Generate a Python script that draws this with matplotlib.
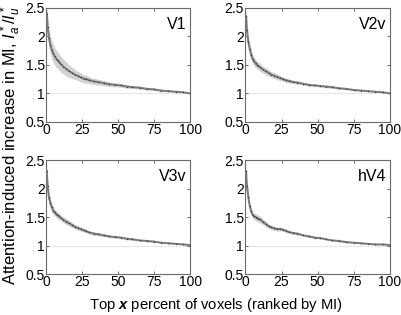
import numpy as np
import matplotlib
matplotlib.use("Agg")
from matplotlib import pyplot as plt

plt.rcParams['font.family'] = ['Liberation Sans', 'DejaVu Sans']
plt.rcParams['mathtext.fontset'] = 'custom'
plt.rcParams['mathtext.rm'] = 'Liberation Sans'
plt.rcParams['mathtext.it'] = 'Liberation Sans:italic'
plt.rcParams['mathtext.bf'] = 'Liberation Sans:bold'
plt.rcParams['mathtext.bfit'] = 'Liberation Sans:italic:bold'

# percent of voxels (top x, ranked by MI)
pct = [0.5, 1, 2, 3, 4, 5, 6, 7, 8, 9, 10, 12, 14, 16, 18, 20, 22, 24, 26, 28, 30,
       33, 36, 40, 44, 48, 52, 56, 60, 65, 70, 75, 80, 85, 90, 95, 100]

areas = ["V1", "V2v", "V3v", "hV4"]

# mean ratio I_a*/I_u*
v1_mean = [2.40, 2.17, 1.97, 1.85, 1.76, 1.70, 1.65, 1.61, 1.58, 1.55, 1.52, 1.47, 1.43, 1.39,
           1.36, 1.33, 1.31, 1.28, 1.26, 1.25, 1.23, 1.21, 1.20, 1.18, 1.16, 1.15, 1.14, 1.12,
           1.11, 1.10, 1.08, 1.07, 1.05, 1.04, 1.03, 1.02, 1.00]
v2v_mean = [2.35, 2.12, 1.90, 1.78, 1.68, 1.60, 1.56, 1.53, 1.50, 1.48, 1.46, 1.42, 1.39, 1.36,
            1.33, 1.31, 1.29, 1.27, 1.25, 1.23, 1.22, 1.20, 1.19, 1.17, 1.15, 1.14, 1.13, 1.12,
            1.11, 1.09, 1.08, 1.06, 1.05, 1.04, 1.03, 1.02, 1.00]
v3v_mean = [2.30, 2.04, 1.84, 1.74, 1.67, 1.61, 1.58, 1.55, 1.53, 1.51, 1.49, 1.45, 1.42, 1.39,
            1.36, 1.33, 1.31, 1.29, 1.27, 1.25, 1.23, 1.21, 1.20, 1.18, 1.16, 1.15, 1.14, 1.12,
            1.11, 1.09, 1.08, 1.07, 1.05, 1.04, 1.03, 1.02, 1.01]
hv4_mean = [2.30, 2.05, 1.85, 1.69, 1.60, 1.54, 1.51, 1.50, 1.48, 1.47, 1.46, 1.42, 1.38, 1.34,
            1.32, 1.30, 1.29, 1.29, 1.28, 1.26, 1.24, 1.22, 1.21, 1.18, 1.16, 1.14, 1.13, 1.11,
            1.09, 1.08, 1.06, 1.05, 1.04, 1.03, 1.02, 1.02, 1.01]

# half-width of the shaded error band
v1_err = [0.22, 0.20, 0.18, 0.17, 0.16, 0.16, 0.15, 0.15, 0.15, 0.14, 0.14, 0.13, 0.12, 0.11,
          0.10, 0.09, 0.08, 0.08, 0.07, 0.07, 0.06, 0.055, 0.05, 0.045, 0.04, 0.035, 0.03, 0.03,
          0.025, 0.025, 0.02, 0.02, 0.02, 0.015, 0.015, 0.01, 0.01]
v2v_err = [0.20, 0.16, 0.12, 0.10, 0.09, 0.08, 0.08, 0.07, 0.07, 0.07, 0.07, 0.06, 0.06, 0.06,
           0.05, 0.05, 0.05, 0.045, 0.04, 0.04, 0.035, 0.03, 0.03, 0.025, 0.025, 0.02, 0.02, 0.02,
           0.02, 0.02, 0.015, 0.015, 0.015, 0.01, 0.01, 0.01, 0.01]
v3v_err = [0.20, 0.15, 0.11, 0.09, 0.08, 0.07, 0.06, 0.06, 0.06, 0.06, 0.05, 0.05, 0.05, 0.05,
           0.045, 0.04, 0.04, 0.035, 0.035, 0.03, 0.03, 0.03, 0.025, 0.025, 0.02, 0.02, 0.02, 0.02,
           0.02, 0.015, 0.015, 0.015, 0.01, 0.01, 0.01, 0.01, 0.01]
hv4_err = [0.20, 0.14, 0.10, 0.08, 0.07, 0.06, 0.06, 0.06, 0.06, 0.06, 0.06, 0.05, 0.05, 0.04,
           0.04, 0.035, 0.035, 0.035, 0.03, 0.03, 0.025, 0.025, 0.02, 0.02, 0.02, 0.02, 0.015, 0.015,
           0.015, 0.015, 0.01, 0.01, 0.01, 0.01, 0.01, 0.01, 0.01]

means = [v1_mean, v2v_mean, v3v_mean, hv4_mean]
errs = [v1_err, v2v_err, v3v_err, hv4_err]

xticks = [0, 25, 50, 75, 100]
yticks = [0.5, 1, 1.5, 2, 2.5]
yticklabels = ["0.5", "1", "1.5", "2", "2.5"]

fig = plt.figure(figsize=(4.01, 3.15), dpi=100)
positions = [[0.115, 0.613, 0.359, 0.362], [0.612, 0.613, 0.360, 0.362],
             [0.115, 0.130, 0.359, 0.362], [0.612, 0.130, 0.360, 0.362]]

x = np.array(pct)
for i in range(4):
    ax = fig.add_axes(positions[i])
    m = np.array(means[i])
    e = np.array(errs[i])
    ax.axhline(1, color='#e6e6e6', lw=0.8, zorder=1)
    ax.fill_between(x, m - e, m + e, color='#d2d2d2', lw=0, zorder=2)
    ax.plot(x, m, color='#7a7a7a', lw=1.4, zorder=3)
    ax.plot(x, m, ls='none', marker='.', ms=2.0, mfc='#3c3c3c', mec='none', zorder=4)
    ax.set_xlim(0, 100)
    ax.set_ylim(0.5, 2.5)
    ax.set_xticks(xticks)
    ax.set_yticks(yticks)
    ax.set_yticklabels(yticklabels)
    ax.tick_params(direction='in', length=2.5, width=0.6, top=True, right=True,
                   labelsize=10, pad=1, color='#555555')
    for s in ax.spines.values():
        s.set_color('#6a6a6a')
        s.set_linewidth(0.8)
    ax.text(0.975, 0.92, areas[i], transform=ax.transAxes, ha='right', va='top', fontsize=11.5)

fig.text(0.028, 0.54, r"Attention-induced increase in MI, $I_a^*/I_u^*$", rotation=90,
         ha='center', va='center', fontsize=12)
fig.text(0.539, 0.018, r"Top $\mathbfit{x}$ percent of voxels (ranked by MI)",
         ha='center', va='baseline', fontsize=10.6)

fig.savefig("out.png", dpi=100)
